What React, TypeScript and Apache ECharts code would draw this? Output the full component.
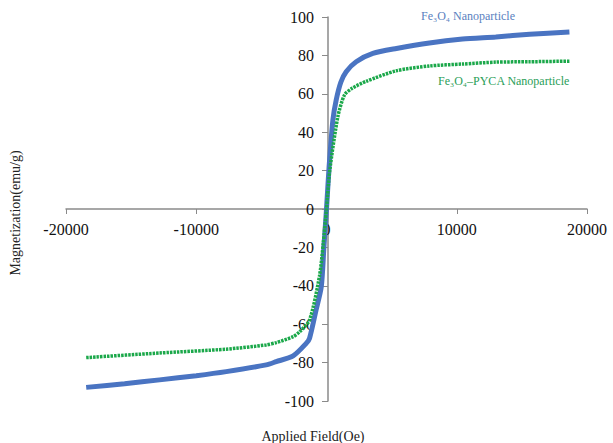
import React, { useEffect, useRef } from "react";
import * as echarts from "echarts";

const xTicks = [-20000, -10000, 0, 10000, 20000];
const yTicks = [-100, -80, -60, -40, -20, 0, 20, 40, 60, 80, 100];

const fe3o4Field = [-18450, -15500, -12820, -10000, -7700, -4630, -3860, -2560, -1560, -1300, -800, -400, -200, 0, 200, 490, 745, 1100, 1510, 2280, 3560, 5370, 7900, 10440, 13000, 15600, 18650];
const fe3o4Mag = [-92.9, -91, -89, -86.8, -84.7, -81.2, -79.5, -76.5, -70, -67.3, -52.6, -40.5, -20, 0, 22, 46.4, 56.8, 66, 71.5, 76.7, 81, 83.6, 86.5, 88.5, 89.6, 91, 92.2];

const pycaField = [-18450, -12820, -7700, -4630, -3860, -2560, -2070, -1300, -540, -250, 0, 250, 870, 1380, 2000, 3050, 5370, 7900, 10440, 13000, 15600, 18650];
const pycaMag = [-77.4, -75, -73, -70.8, -69.6, -66.5, -64, -57.8, -35, -18, 0, 20, 48, 59.4, 63, 66.5, 72, 74.5, 75.5, 76.5, 76.7, 77];

const xTitle = "Applied Field(Oe)";
const yTitle = "Magnetization(emu/g)";
const label1 = "Fe₃O₄ Nanoparticle";
const label2 = "Fe₃O₄–PYCA Nanoparticle";

export default function App() {
  const ref = useRef<HTMLDivElement>(null);
  useEffect(() => {
    if (!ref.current) return;
    const chart = echarts.init(ref.current, undefined, { renderer: "svg" });
    const font = "'Liberation Serif', 'Times New Roman', serif";
    const gridLeft = 66, gridRight = 26, gridTop = 17, gridBottom = 42;
    chart.setOption({
      animation: false,
      backgroundColor: "#ffffff",
      grid: { left: gridLeft, right: gridRight, top: gridTop, bottom: gridBottom },
      xAxis: {
        type: "value",
        min: xTicks[0],
        max: xTicks[xTicks.length - 1],
        interval: 10000,
        position: "bottom",
        offset: -192,
        axisLine: { onZero: false, lineStyle: { color: "#8a8a8a", width: 1.5 } },
        axisTick: { show: true, inside: false, length: 5, lineStyle: { color: "#8a8a8a" } },
        axisLabel: {
          margin: 12,
          color: "#111",
          fontFamily: font,
          fontSize: 16,
          formatter: (v: number) => String(v),
        },
        splitLine: { show: false },
      },
      yAxis: {
        type: "value",
        min: yTicks[0],
        max: yTicks[yTicks.length - 1],
        interval: 20,
        position: "left",
        offset: -262,
        axisLine: { show: true, onZero: false, lineStyle: { color: "#8a8a8a", width: 1.5 } },
        axisTick: { show: true, inside: false, length: 6, lineStyle: { color: "#8a8a8a" } },
        axisLabel: { margin: 14, color: "#111", fontFamily: font, fontSize: 16 },
        splitLine: { show: false },
      },
      series: [
        {
          type: "line",
          name: label2,
          data: pycaField.map((x, i) => [x, pycaMag[i]]),
          showSymbol: false,
          smooth: 0.25,
          lineStyle: { color: "#1ba84a", width: 3.5, type: [2.5, 1] },
          z: 3,
        },
        {
          type: "line",
          name: label1,
          data: fe3o4Field.map((x, i) => [x, fe3o4Mag[i]]),
          showSymbol: false,
          smooth: 0.25,
          lineStyle: { color: "#4a74c2", width: 5 },
          z: 2,
        },
      ],
      graphic: [
        {
          type: "text",
          left: 421,
          top: 10,
          style: { text: label1, fill: "#5a7fc0", font: `12px ${font}` },
        },
        {
          type: "text",
          left: 438,
          top: 75,
          style: { text: label2, fill: "#2a9e58", font: `12px ${font}` },
        },
        {
          type: "text",
          x: 313,
          y: 436,
          style: { text: xTitle, fill: "#222", font: `14px ${font}`, align: "center", verticalAlign: "middle" },
        },
        {
          type: "text",
          x: 15,
          y: 213,
          rotation: Math.PI / 2,
          style: { text: yTitle, fill: "#222", font: `14px ${font}`, align: "center", verticalAlign: "middle" },
        },
      ],
    });
    return () => chart.dispose();
  }, []);
  return (
    <div
      ref={ref}
      style={{ position: "fixed", left: 0, top: 0, width: 613, height: 443 }}
    />
  );
}
